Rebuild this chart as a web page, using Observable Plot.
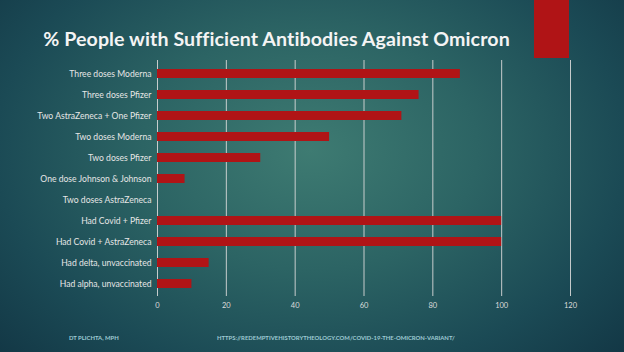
<!DOCTYPE html>
<html>
<head>
<meta charset="utf-8">
<script src="https://cdn.jsdelivr.net/npm/d3@7"></script>
<script src="https://cdn.jsdelivr.net/npm/@observablehq/plot@0.6"></script>
<style>
  html, body { margin: 0; padding: 0; }
  #slide {
    position: relative; width: 624px; height: 352px; overflow: hidden;
    background: radial-gradient(ellipse 420px 300px at 310px 150px, #3e7b72 0%, #2c6464 40%, #1b4a55 75%, #133846 100%);
    font-family: Lato, "Open Sans", sans-serif;
  }
  #deco { position: absolute; left: 534px; top: 0; width: 35px; height: 58px; background: #b01416; }
  #title {
    position: absolute; left: 0; top: 27px; width: 553px; text-align: center;
    color: #f4f4f4; font-weight: bold; font-size: 19.6px; letter-spacing: 0.1px; line-height: 24px;
  }
  #chart { position: absolute; left: 0; top: 58px; }
  .foot { position: absolute; top: 334px; color: #9fcbd3; font-weight: bold; font-size: 5.9px; letter-spacing: 0; }
</style>
</head>
<body>
<div id="slide">
  <div id="deco"></div>
  <div id="title">% People with Sufficient Antibodies Against Omicron</div>
  <div id="chart"></div>
  <div class="foot" style="left:69px">DT PLICHTA, MPH</div>
  <div class="foot" style="left:217px">HTTPS://REDEMPTIVEHISTORYTHEOLOGY.COM/COVID-19-THE-OMICRON-VARIANT/</div>
</div>
<script>
const categories = [
  "Three doses Moderna",
  "Three doses Pfizer",
  "Two AstraZeneca + One Pfizer",
  "Two doses Moderna",
  "Two doses Pfizer",
  "One dose Johnson & Johnson",
  "Two doses AstraZeneca",
  "Had Covid + Pfizer",
  "Had Covid + AstraZeneca",
  "Had delta, unvaccinated",
  "Had alpha, unvaccinated"
];
const values = [88, 76, 71, 50, 30, 8, 0, 100, 100, 15, 10];
const xTicks = [0, 20, 40, 60, 80, 100, 120];

const data = categories.map((c, i) => ({category: c, value: values[i]}));

const chart = Plot.plot({
  width: 624,
  height: 260,
  marginLeft: 157,
  marginRight: 54,
  marginTop: 2,
  marginBottom: 22,
  style: {background: "transparent", color: "#e8e8e8", fontFamily: "Lato, 'Open Sans', sans-serif"},
  x: {domain: [0, 120], ticks: xTicks, label: null},
  y: {domain: categories, paddingInner: 0.58, paddingOuter: 0.29, label: null},
  marks: [
    Plot.gridX(xTicks, {stroke: "#d8d8d8", strokeOpacity: 0.9, strokeWidth: 1}),
    Plot.axisX({ticks: xTicks, tickSize: 0, tickPadding: 6, fontSize: 7.5, fill: "#dcdcdc", label: null}),
    Plot.axisY({tickSize: 0, tickPadding: 6, fontSize: 8.6, fill: "#e6e6e6", label: null}),
    Plot.barX(data, {x: "value", y: "category", fill: "#b01416"})
  ]
});
document.getElementById("chart").appendChild(chart);
</script>
</body>
</html>
